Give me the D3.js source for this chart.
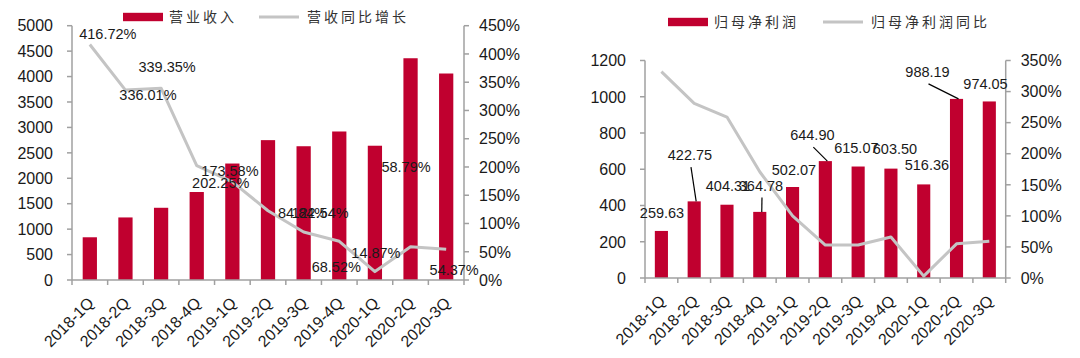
<!DOCTYPE html>
<html><head><meta charset="utf-8">
<script src="https://cdn.jsdelivr.net/npm/d3@7"></script>
<style>
html,body{margin:0;padding:0;background:#fff;}
svg{display:block;}
text{font-family:"Liberation Sans",Arial,sans-serif;fill:#1a1a1a;}
.leg{font-family:"Noto Sans CJK SC",sans-serif;font-size:14px;letter-spacing:3px;fill:#333;}
</style></head>
<body><svg id="c" width="1080" height="358"></svg>
<script>
// ---------- data ----------
const categories = ["2018-1Q","2018-2Q","2018-3Q","2018-4Q","2019-1Q","2019-2Q","2019-3Q","2019-4Q","2020-1Q","2020-2Q","2020-3Q"];
// left chart: revenue (bars) and revenue YoY growth % (line)
const revenue = [840, 1230, 1420, 1730, 2290, 2750, 2630, 2920, 2640, 4360, 4060];
const revenueYoY = [416.72, 336.01, 339.35, 202.25, 173.58, 122.54, 84.84, 68.52, 14.87, 58.79, 54.37];
const revenueTicks = [0,500,1000,1500,2000,2500,3000,3500,4000,4500,5000];
const revenueYoYTicks = [0,50,100,150,200,250,300,350,400,450];
// right chart: net profit attributable to parent (bars) and its YoY % (line)
const netProfit = [259.63, 422.75, 404.31, 364.78, 502.07, 644.90, 615.07, 603.50, 516.36, 988.19, 974.05];
const netProfitYoY = [332, 281, 259, 171, 100, 53, 53, 66, 3, 55, 59];
const netProfitTicks = [0,200,400,600,800,1000,1200];
const netProfitYoYTicks = [0,50,100,150,200,250,300,350];

// ---------- layout (label offsets, relative to their mark) ----------
const leftLabelOffsets = [[18,-10.5],[22.5,5],[6,-21],[24,17],[-2.4,-11],[52,2],[-1,-19],[-3,26],[1,-18.6],[-4.5,-80],[8,21]];
const rightLabelOffsets = [[0.6,-18.4],[-4.2,-46.3],[1,-19],[1.2,-26.3],[1.4,-17],[-13,-26],[-1.8,-18.4],[4,-20],[3.2,-19.3],[-29,-27],[-3.8,-18]];
const rightLeaders = [false,true,false,true,false,true,false,false,false,true,false];

const RED = "#c0002f", GREY = "#c4c4c4", AXIS = "#a0a0a0";
const svg = d3.select("#c");

function chart(o){
  const g = svg.append("g");
  const x = d3.scaleBand().domain(categories).range([o.x0,o.x1]).paddingInner(0.6).paddingOuter(0.3);
  const yL = d3.scaleLinear().domain([0,o.lmax]).range([o.yb,o.yt]);
  const yR = d3.scaleLinear().domain([0,o.rmax]).range([o.yb,o.yt]);
  const step = x.step();

  // bars
  g.selectAll("rect.bar").data(o.bars).join("rect")
    .attr("x",(d,i)=>x(categories[i])).attr("width",x.bandwidth())
    .attr("y",d=>yL(d)).attr("height",d=>yL(0)-yL(d)).attr("fill",RED);

  // line
  const line = d3.line().x((d,i)=>x(categories[i])+x.bandwidth()/2).y(d=>yR(d));
  g.append("path").datum(o.line).attr("d",line).attr("fill","none")
    .attr("stroke",GREY).attr("stroke-width",3).attr("stroke-linejoin","round");

  // axes
  const ax = g.append("g").attr("stroke",AXIS).attr("stroke-width",1.5).attr("fill","none");
  ax.append("line").attr("x1",o.x0).attr("x2",o.x0).attr("y1",o.yt).attr("y2",o.yb);
  ax.append("line").attr("x1",o.x1).attr("x2",o.x1).attr("y1",o.yt).attr("y2",o.yb);
  ax.append("line").attr("x1",o.x0).attr("x2",o.x1).attr("y1",o.yb).attr("y2",o.yb);
  o.lticks.forEach(t=>ax.append("line").attr("x1",o.x0-5).attr("x2",o.x0).attr("y1",yL(t)).attr("y2",yL(t)));
  o.rticks.forEach(t=>ax.append("line").attr("x1",o.x1).attr("x2",o.x1+5).attr("y1",yR(t)).attr("y2",yR(t)));
  d3.range(categories.length+1).forEach(i=>{
    const xx = o.x0 + i*step;
    ax.append("line").attr("x1",xx).attr("x2",xx).attr("y1",o.yb).attr("y2",o.yb+5);
  });

  // tick labels
  g.selectAll("text.lt").data(o.lticks).join("text").attr("class","lt")
    .attr("x",o.x0-19).attr("y",d=>yL(d)).attr("dy","0.36em").attr("text-anchor","end")
    .style("font-size","16px").text(d=>d);
  g.selectAll("text.rt").data(o.rticks).join("text").attr("class","rt")
    .attr("x",o.x1+15).attr("y",d=>yR(d)).attr("dy","0.36em").attr("text-anchor","start")
    .style("font-size","16px").text(d=>d+"%");
  g.selectAll("text.xt").data(categories).join("text").attr("class","xt")
    .attr("text-anchor","end").style("font-size","16px")
    .attr("transform",d=>`translate(${x(d)+x.bandwidth()/2+5},${o.yb+24}) rotate(-45)`)
    .text(d=>d);

  return {g,x,yL,yR};
}

// ----- left chart -----
const L = chart({x0:72,x1:464,yt:25.7,yb:280,lmax:5000,rmax:450,bars:revenue,line:revenueYoY,lticks:revenueTicks,rticks:revenueYoYTicks});
L.g.selectAll("text.dl").data(revenueYoY).join("text").attr("class","dl")
  .attr("x",(d,i)=>L.x(categories[i])+L.x.bandwidth()/2+leftLabelOffsets[i][0])
  .attr("y",(d,i)=>L.yR(d)+leftLabelOffsets[i][1])
  .attr("dy","0.36em").attr("text-anchor","middle").style("font-size","14.5px")
  .text(d=>d.toFixed(2)+"%");

// ----- right chart -----
const R = chart({x0:645,x1:1005.7,yt:60.5,yb:278,lmax:1200,rmax:350,bars:netProfit,line:netProfitYoY,lticks:netProfitTicks,rticks:netProfitYoYTicks});
netProfit.forEach((d,i)=>{
  const cx = R.x(categories[i])+R.x.bandwidth()/2, top = R.yL(d);
  const lx = cx+rightLabelOffsets[i][0], ly = top+rightLabelOffsets[i][1];
  if(rightLeaders[i]){
    R.g.append("line").attr("x1",cx+2).attr("y1",top).attr("x2",lx+1).attr("y2",ly+12)
      .attr("stroke","#000").attr("stroke-width",1.2);
  }
  R.g.append("text").attr("x",lx).attr("y",ly).attr("dy","0.36em").attr("text-anchor","middle")
    .style("font-size","14.5px").text(d.toFixed(2));
});

// ----- legends -----
function legend(xr, y, t1, xl, t2){
  const g = svg.append("g");
  g.append("rect").attr("x",xr).attr("y",y-4.2).attr("width",40).attr("height",8.4).attr("fill",RED);
  g.append("text").attr("class","leg").attr("x",xr+46).attr("y",y).attr("dy","0.36em").text(t1);
  g.append("line").attr("x1",xl).attr("x2",xl+40).attr("y1",y).attr("y2",y).attr("stroke",GREY).attr("stroke-width",3);
  g.append("text").attr("class","leg").attr("x",xl+48).attr("y",y).attr("dy","0.36em").text(t2);
}
legend(123, 17, "营业收入", 259, "营收同比增长");
legend(668, 22, "归母净利润", 823, "归母净利润同比");
</script></body></html>
